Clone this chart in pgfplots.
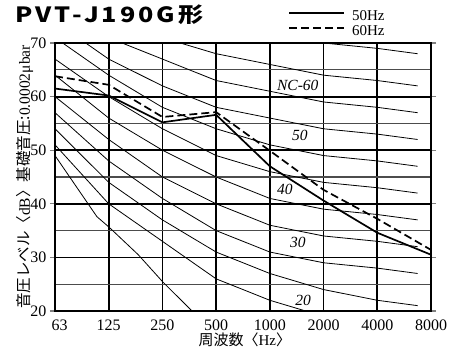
\documentclass[border=0pt]{standalone}
\usepackage{fontspec}
\setmainfont{Liberation Serif}
\newfontfamily\cjk{Noto Sans CJK JP}
\newfontfamily\cjkt{Noto Sans CJK JP}[FakeStretch=1.2, LetterSpace=14]
\usepackage{pgfplots}
\pgfplotsset{compat=1.18}

\begin{document}
\begin{tikzpicture}
\begin{axis}[
  scale only axis,
  width=376pt, height=268pt,
  xmin=0, xmax=7, ymin=20, ymax=70,
  clip mode=individual,
  xtick={0,1,2,3,4,5,6,7},
  xticklabels={\hspace{9pt}63,125,250,500,1000,2000,4000,8000},
  ytick={20,30,40,50,60,70},
  minor ytick={25,35,45,55,65},
  grid=both,
  major grid style={black, line width=1.8pt},
  minor grid style={black!70, line width=1.1pt},
  axis line style={line width=1.8pt},
  tick align=outside,
  major tick length=5pt,
  minor tick length=0pt,
  xtick style={draw=none},
  ytick style={line width=1.2pt},
  /pgf/number format/assume math mode=true,
  ticklabel style={font=\fontsize{16}{16}\selectfont},
  xlabel={{\cjk 周波数〈}Hz{\cjk 〉}},
  xlabel style={font=\fontsize{15}{15}\selectfont, at={(axis description cs:0.505,-0.108)}, anchor=center},
  ylabel={{\cjk 音圧レベル〈}dB{\cjk 〉基礎音圧:}0.0002μbar},
  ylabel style={font=\fontsize{15.5}{15.5}\selectfont, at={(axis description cs:-0.08,0.5)}, anchor=center},
  legend image code/.code={\draw[#1] (0pt,4pt) -- (55pt,4pt);},
  legend cell align=left,
  legend style={at={(axis description cs:0.62,1.122)}, anchor=north west,
    draw=none, fill=none, font=\fontsize{15}{15}\selectfont,
    row sep=2pt, column sep=7pt, inner sep=0pt,
    nodes={inner sep=0pt, text height=10pt, text depth=3pt}},
]
% NC curves (octave bands 63..8000 Hz)
\pgfplotsset{nc/.style={black, line width=0.8pt, forget plot}}
\addplot[nc] coordinates {(0,49) (0.78,37.6) (1,35.7) (1.55,30.5) (2,25.5) (2.6,19.5)};
\addplot[nc] coordinates {(0,51) (1,40) (2,33) (3,26) (4,22) (5,19) (6,17) (6.75,16)};
\addplot[nc] coordinates {(0,54) (1,44) (2,37) (3,31) (4,27) (5,24) (6,22) (6.75,21)};
\addplot[nc] coordinates {(0,57) (1,48) (2,41) (3,35) (4,31) (5,29) (6,28) (6.75,27)};
\addplot[nc] coordinates {(0,60) (1,52) (2,45) (3,40) (4,36) (5,34) (6,33) (6.75,32)};
\addplot[nc] coordinates {(0,64) (1,56) (2,50) (3,45) (4,41) (5,39) (6,38) (6.75,37)};
\addplot[nc] coordinates {(0,67) (1,60) (2,54) (3,49) (4,46) (5,44) (6,43) (6.75,42)};
\addplot[nc] coordinates {(0,71) (1,64) (2,58) (3,54) (4,51) (5,49) (6,48) (6.75,47)};
\addplot[nc] coordinates {(0,74) (1,67) (2,62) (3,58) (4,56) (5,54) (6,53) (6.75,52)};
\addplot[nc] coordinates {(0,77) (1,71) (2,67) (3,63) (4,61) (5,59) (6,58) (6.75,57)};
\addplot[nc] coordinates {(0,80) (1,75) (2,71) (3,68) (4,66) (5,64) (6,63) (6.75,62)};
\addplot[nc] coordinates {(0,83) (1,79) (2,75) (3,72) (4,71) (5,70) (6,69) (6.75,68)};
% measured
\addplot[black, line width=1.7pt] coordinates {(0,61.5) (1,60.2) (2,55.2) (3,56.6) (4,47.0) (5,40.6) (6,34.6) (7,30.5)};
\addplot[black, line width=1.7pt, dash pattern=on 8pt off 4pt] coordinates {(0,63.8) (1,62.2) (2,56.2) (3,57.1) (4,49.9) (5,42.6) (6,37.2) (7,31.4)};
\legend{50Hz, 60Hz}
\node[font=\fontsize{15.5}{15.5}\selectfont\itshape] at (axis cs:4.52,62.0) {NC-60};
\node[font=\fontsize{15.5}{15.5}\selectfont\itshape] at (axis cs:4.56,52.7) {50};
\node[font=\fontsize{15.5}{15.5}\selectfont\itshape] at (axis cs:4.28,42.6) {40};
\node[font=\fontsize{15.5}{15.5}\selectfont\itshape] at (axis cs:4.52,32.8) {30};
\node[font=\fontsize{15.5}{15.5}\selectfont\itshape] at (axis cs:4.62,22.0) {20};
\node[anchor=west, inner sep=0pt, font=\fontsize{21}{21}\selectfont\cjkt\bfseries] at (axis description cs:-0.106,1.104) {PVT-J190G形};
\end{axis}
\pgfresetboundingbox
\path[use as bounding box] ([shift={(-55pt,-43pt)}]current axis.south west) rectangle ([shift={(31pt,43pt)}]current axis.north east);
\end{tikzpicture}
\end{document}
